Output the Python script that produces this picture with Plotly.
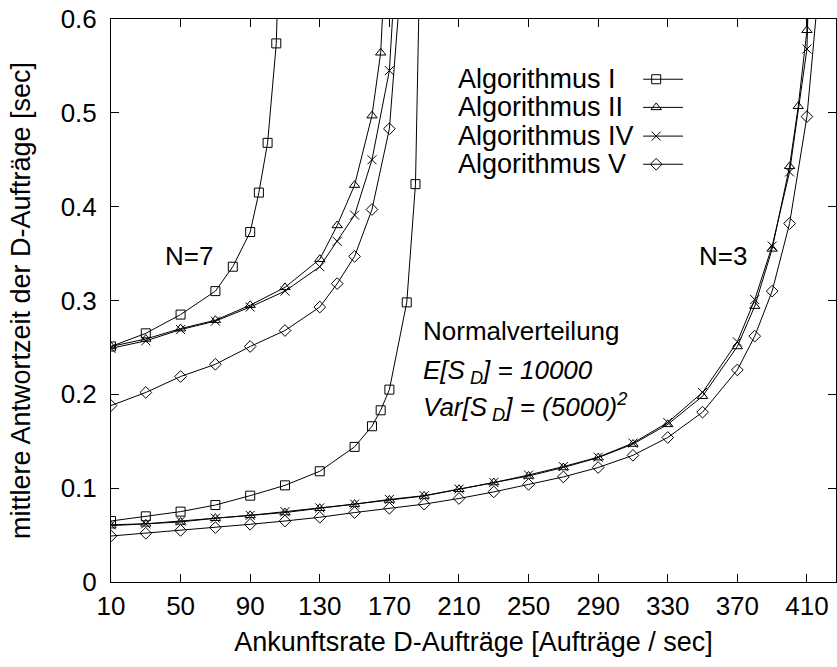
import plotly.graph_objects as go

# ---------------- data ----------------
# N=7
x7_alg1 = [10, 30, 50, 70, 80, 90, 95, 100, 105, 110]
y7_alg1 = [0.251, 0.265, 0.285, 0.310, 0.336, 0.373, 0.415, 0.468, 0.574, 0.90]
x7_alg2 = [10, 30, 50, 70, 90, 110, 130, 140, 150, 160, 165, 170]
y7_alg2 = [0.251, 0.259, 0.270, 0.279, 0.295, 0.314, 0.344, 0.380, 0.423, 0.497, 0.564, 0.75]
x7_alg4 = [10, 30, 50, 70, 90, 110, 130, 140, 150, 160, 170, 175]
y7_alg4 = [0.249, 0.257, 0.269, 0.278, 0.293, 0.310, 0.336, 0.363, 0.391, 0.450, 0.545, 0.70]
x7_alg5 = [10, 30, 50, 70, 90, 110, 130, 140, 150, 160, 170, 180]
y7_alg5 = [0.188, 0.202, 0.219, 0.232, 0.251, 0.268, 0.293, 0.318, 0.347, 0.397, 0.483, 0.72]

# N=3
x3_alg1 = [10, 30, 50, 70, 90, 110, 130, 150, 160, 165, 170, 180, 185, 190]
y3_alg1 = [0.065, 0.070, 0.075, 0.082, 0.092, 0.103, 0.118, 0.144, 0.166, 0.183, 0.205, 0.298, 0.424, 0.90]
x3_alg2 = [10, 30, 50, 70, 90, 110, 130, 150, 170, 190, 210, 230, 250, 270, 290, 310, 330, 350,
           370, 380, 390, 400, 405, 410, 415]
y3_alg2 = [0.060, 0.062, 0.064, 0.068, 0.071, 0.074, 0.0786, 0.083, 0.0874, 0.0917, 0.0988, 0.106,
           0.113, 0.122, 0.1325, 0.147, 0.168, 0.198, 0.251, 0.294, 0.355, 0.443, 0.507, 0.588, 0.90]
x3_alg4 = [10, 30, 50, 70, 90, 110, 130, 150, 170, 190, 210, 230, 250, 270, 290, 310, 330, 350,
           370, 380, 390, 400, 410, 415]
y3_alg4 = [0.061, 0.062, 0.065, 0.068, 0.071, 0.075, 0.079, 0.083, 0.088, 0.092, 0.099, 0.106,
           0.114, 0.123, 0.133, 0.148, 0.170, 0.202, 0.256, 0.301, 0.358, 0.437, 0.568, 0.90]
x3_alg5 = [10, 30, 50, 70, 90, 110, 130, 150, 170, 190, 210, 230, 250, 270, 290, 310, 330, 350,
           370, 380, 390, 400, 410, 420]
y3_alg5 = [0.049, 0.052, 0.055, 0.058, 0.0615, 0.065, 0.069, 0.074, 0.0786, 0.083, 0.089, 0.096,
           0.104, 0.112, 0.122, 0.135, 0.154, 0.181, 0.226, 0.262, 0.310, 0.382, 0.496, 0.70]

legend_names = ["Algorithmus I", "Algorithmus II", "Algorithmus IV", "Algorithmus V"]
symbols = ["square-open", "triangle-up-open", "x-thin-open", "diamond-open"]
marker_sizes = [9, 9, 9, 9]

x_ticks = [10, 50, 90, 130, 170, 210, 250, 290, 330, 370, 410]
y_ticks = [0, 0.1, 0.2, 0.3, 0.4, 0.5, 0.6]
y_tick_text = ["0", "0.1", "0.2", "0.3", "0.4", "0.5", "0.6"]

FONT = "Liberation Sans, Arial, Helvetica, sans-serif"
FS = 26      # tick labels
TFS = 27     # axis titles / legend
AFS = 26     # annotations

fig = go.Figure()

series = [
    (x7_alg1, y7_alg1, 0), (x7_alg2, y7_alg2, 1), (x7_alg4, y7_alg4, 2), (x7_alg5, y7_alg5, 3),
    (x3_alg1, y3_alg1, 0), (x3_alg2, y3_alg2, 1), (x3_alg4, y3_alg4, 2), (x3_alg5, y3_alg5, 3),
]
for xs, ys, k in series:
    fig.add_trace(go.Scatter(
        x=xs, y=ys, mode="lines+markers", showlegend=False,
        line=dict(color="black", width=1),
        marker=dict(symbol=symbols[k], size=marker_sizes[k], color="black",
                    line=dict(color="black", width=1)),
        cliponaxis=True,
    ))

# manual legend (text left, sample right) on an overlay axis 0..1
leg_y = [0.893, 0.843, 0.792, 0.742]
leg_text_x = 0.476
leg_line_x0, leg_line_x1 = 0.734, 0.789
leg_marker_x = 0.752
for i, name in enumerate(legend_names):
    fig.add_trace(go.Scatter(
        x=[leg_line_x0, leg_line_x1], y=[leg_y[i], leg_y[i]], mode="lines",
        xaxis="x2", yaxis="y2", showlegend=False, hoverinfo="skip",
        line=dict(color="black", width=1)))
    fig.add_trace(go.Scatter(
        x=[leg_marker_x], y=[leg_y[i]], mode="markers",
        xaxis="x2", yaxis="y2", showlegend=False, hoverinfo="skip",
        marker=dict(symbol=symbols[i], size=marker_sizes[i], color="black",
                    line=dict(color="black", width=1))))
    fig.add_annotation(x=leg_text_x, y=leg_y[i], xref="x2", yref="y2", text=name,
                       showarrow=False, xanchor="left", yanchor="middle",
                       font=dict(family=FONT, size=TFS, color="black"))

# text annotations
fig.add_annotation(x=40, y=0.347, text="N=7", showarrow=False, xanchor="left", yanchor="middle",
                   font=dict(family=FONT, size=AFS, color="black"))
fig.add_annotation(x=347, y=0.347, text="N=3", showarrow=False, xanchor="left", yanchor="middle",
                   font=dict(family=FONT, size=AFS, color="black"))
fig.add_annotation(x=188, y=0.268, text="Normalverteilung", showarrow=False, xanchor="left",
                   yanchor="middle", font=dict(family=FONT, size=AFS, color="black"))
fig.add_annotation(x=188, y=0.224, text="<i>E[S<sub> D</sub>] = 10000</i>", showarrow=False,
                   xanchor="left", yanchor="middle", font=dict(family=FONT, size=AFS, color="black"))
fig.add_annotation(x=188, y=0.186, text="<i>Var[S<sub> D</sub>] = (5000)<sup>2</sup></i>", showarrow=False,
                   xanchor="left", yanchor="middle", font=dict(family=FONT, size=AFS, color="black"))

axis_common = dict(showline=True, linecolor="black", linewidth=1, mirror="allticks",
                   ticks="inside", ticklen=8, tickcolor="black", tickwidth=1,
                   showgrid=False, zeroline=False, automargin=False,
                   tickfont=dict(family=FONT, size=FS, color="black"))

fig.update_layout(
    width=837, height=667,
    margin=dict(l=111, r=1, t=19, b=85),
    paper_bgcolor="white", plot_bgcolor="white",
    font=dict(family=FONT, size=FS, color="black"),
    xaxis=dict(range=[10, 426.7], tickvals=x_ticks, ticktext=[str(v) for v in x_ticks],
               ticklabelstandoff=1,
               title=dict(text="Ankunftsrate D-Aufträge [Aufträge / sec]", standoff=11,
                          font=dict(family=FONT, size=TFS, color="black")),
               **axis_common),
    yaxis=dict(range=[0, 0.6], tickvals=y_ticks, ticktext=y_tick_text,
               ticklabelstandoff=8,
               title=dict(text="mittlere Antwortzeit der D-Aufträge [sec]", standoff=22,
                          font=dict(family=FONT, size=TFS, color="black")),
               **axis_common),
    xaxis2=dict(range=[0, 1], overlaying="x", visible=False, domain=[0, 1]),
    yaxis2=dict(range=[0, 1], overlaying="y", visible=False),
)

fig.write_html("out.html", config={"displayModeBar": False},
               post_script="document.body.style.margin='0';")
